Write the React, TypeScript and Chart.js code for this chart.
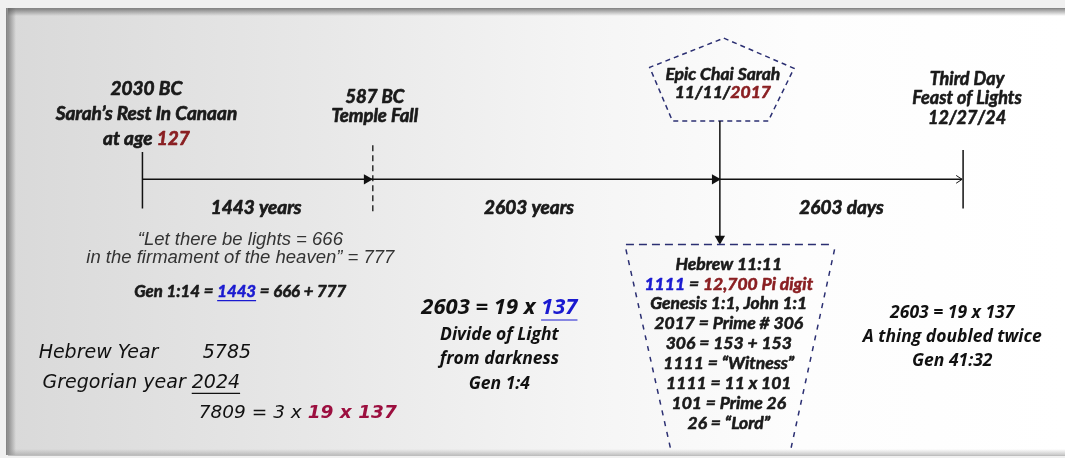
import React, { useEffect, useRef } from "react";
import { Chart, registerables } from "chart.js";

Chart.register(...registerables);

// ---- Timeline data (diagram units: x across, y down) ----
const eventLabels = ["2030 BC", "587 BC", "11/11/2017", "12/27/24"];
const eventX = [138, 370, 722, 968];
const axisY = 178;
const spanLabels = ["1443 years", "2603 years", "2603 days"];
const spanCenterX = [253, 529, 845];

// pentagon (Epic Chai Sarah) and trapezoid (Hebrew 11:11 box) outlines
const pentagonX = [726, 797, 771, 674, 651, 726];
const pentagonY = [33, 64, 118, 118, 63, 33];
const trapTopX = [627, 837];
const trapTopY = [245, 245];
const trapLeftX = [627, 672];
const trapLeftY = [250, 454];
const trapRightX = [838, 794];
const trapRightY = [250, 454];

// ---- Text content ----
const RED = "#8a1f22";
const CRIMSON = "#9c0f3f";
const BLUE = "#1a1ad0";
const INK = "#1a1a1a";

type Seg = { t: string; c?: string; u?: boolean; w?: string };
const L = (t: string, c?: string, u?: boolean, w?: string): Seg => ({ t, c, u, w });

const startEvent: Seg[][] = [[L(eventLabels[0])], [L("Sarah’s Rest In Canaan")], [L("at age "), L("127", RED)]];
const templeEvent: Seg[][] = [[L(eventLabels[1])], [L("Temple Fall")]];
const chaiEvent: Seg[][] = [[L("Epic Chai Sarah")], [L("11/11/"), L("2017", RED)]];
const thirdDayEvent: Seg[][] = [[L("Third Day")], [L("Feast of Lights")], [L(eventLabels[3])]];
const quoteLines: Seg[][] = [[L("“Let there be lights = 666")], [L("in the firmament of the heaven” = 777")]];
const genLine: Seg[][] = [[L("Gen 1:14 = "), L("1443", BLUE, true), L(" = 666 + 777")]];
const divideHead: Seg[][] = [[L("2603 = 19 x "), L("137", BLUE, true)]];
const divideLines: Seg[][] = [[L("Divide of Light")], [L("from darkness")], [L("Gen 1:4")]];
const hebrewLines: Seg[][] = [
  [L("Hebrew 11:11")],
  [L("1111", BLUE), L(" = "), L("12,700 Pi digit", RED)],
  [L("Genesis 1:1, John 1:1")],
  [L("2017 = Prime # 306")],
  [L("306 = 153 + 153")],
  [L("1111 = “Witness”")],
  [L("1111 = 11 x 101")],
  [L("101 = Prime 26")],
  [L("26 = “Lord”")],
];
const doubledLines: Seg[][] = [[L("2603 = 19 x 137")], [L("A thing doubled twice")], [L("Gen 41:32")]];
const yearLabels: Seg[][] = [[L("Hebrew Year")], [L("Gregorian year "), L("2024", undefined, true)]];
const yearValues = ["5785"];
const productLine: Seg[][] = [[L("7809 = 3 x "), L("19 x 137", CRIMSON, false, "bold")]];

// ---- Layout ----
const CAL = "italic bold SIZEpx Lato";
const ARI = "italic SIZEpx 'Liberation Sans'";
const OSB = "italic bold SIZEpx 'Open Sans'";
const DJV = "italic SIZEpx 'DejaVu Sans'";

type Block = { lines: Seg[][]; x: number; y: number; lh: number; font: string; size: number; align: "center" | "left"; color: string; heavy?: number };

const blocks: Block[] = [
  { lines: startEvent, x: eventX[0] + 4, y: 85, lh: 25.5, font: CAL, size: 19, align: "center", color: INK, heavy: 0.7 },
  { lines: templeEvent, x: eventX[1] + 3, y: 93, lh: 20, font: CAL, size: 18.5, align: "center", color: INK, heavy: 0.7 },
  { lines: chaiEvent, x: eventX[2] + 3, y: 70, lh: 19, font: CAL, size: 17.5, align: "center", color: INK, heavy: 0.6 },
  { lines: thirdDayEvent, x: eventX[3] + 4, y: 75, lh: 20, font: CAL, size: 18, align: "center", color: INK, heavy: 0.6 },
  { lines: quoteLines, x: 237, y: 240, lh: 19, font: ARI, size: 18.5, align: "center", color: "#333333" },
  { lines: genLine, x: 237, y: 293, lh: 18, font: CAL, size: 16.8, align: "center", color: INK, heavy: 0.6 },
  { lines: divideHead, x: 499, y: 310, lh: 20, font: OSB, size: 22, align: "center", color: "#111111" },
  { lines: divideLines, x: 499, y: 338, lh: 25, font: OSB, size: 17.5, align: "center", color: "#111111" },
  { lines: hebrewLines, x: 731, y: 265, lh: 20.4, font: CAL, size: 17.5, align: "center", color: INK, heavy: 0.6 },
  { lines: doubledLines, x: 957, y: 315, lh: 25, font: OSB, size: 17.5, align: "center", color: "#111111" },
  { lines: yearLabels.slice(0, 1), x: 33, y: 356, lh: 31, font: DJV, size: 19, align: "left", color: "#111111" },
  { lines: yearLabels.slice(1), x: 37, y: 387, lh: 31, font: DJV, size: 19, align: "left", color: "#111111" },
  { lines: [[L(yearValues[0])]], x: 199, y: 356, lh: 31, font: DJV, size: 19, align: "left", color: "#111111" },
  { lines: productLine, x: 195, y: 418, lh: 31, font: DJV, size: 18.5, align: "left", color: "#111111" },
];

const fontOf = (b: Block, s: Seg) => {
  let f = b.font.replace("SIZE", String(b.size));
  if (s.w === "bold" && !f.includes("bold")) f = f.replace("italic", "italic bold");
  return f;
};

const backgroundPlugin = {
  id: "panelBackground",
  beforeDraw(chart: any) {
    const { ctx, width, height } = chart;
    ctx.save();
    ctx.fillStyle = "#f0f0f0";
    ctx.fillRect(0, 0, width, height);
    const g = ctx.createLinearGradient(8, 0, width, 0);
    g.addColorStop(0, "#d9d9d9");
    g.addColorStop(0.3, "#e8e8e8");
    g.addColorStop(0.55, "#f5f5f5");
    g.addColorStop(0.75, "#fdfdfd");
    g.addColorStop(1, "#ffffff");
    ctx.fillStyle = g;
    ctx.fillRect(8, 9, width - 8, 446);
    const gt = ctx.createLinearGradient(0, 8, 0, 16);
    gt.addColorStop(0, "rgba(90,90,90,0.75)");
    gt.addColorStop(1, "rgba(90,90,90,0)");
    ctx.fillStyle = gt;
    ctx.fillRect(8, 8, width - 8, 8);
    const gl = ctx.createLinearGradient(6, 0, 16, 0);
    gl.addColorStop(0, "rgba(90,90,90,0.75)");
    gl.addColorStop(1, "rgba(90,90,90,0)");
    ctx.fillStyle = gl;
    ctx.fillRect(6, 8, 10, 447);
    const gb = ctx.createLinearGradient(0, 449, 0, 456);
    gb.addColorStop(0, "rgba(150,150,150,0)");
    gb.addColorStop(1, "rgba(150,150,150,0.6)");
    ctx.fillStyle = gb;
    ctx.fillRect(8, 449, width - 8, 7);
    ctx.restore();
  },
};

const textPlugin = {
  id: "diagramText",
  afterDatasetsDraw(chart: any) {
    const { ctx } = chart;
    const xs = chart.scales.x;
    const ys = chart.scales.y;
    ctx.save();
    ctx.textBaseline = "middle";
    ctx.textAlign = "left";
    ctx.lineJoin = "round";
    const drawBlock = (b: Block) => {
      b.lines.forEach((line, i) => {
        const cy = ys.getPixelForValue(b.y + i * b.lh);
        let total = 0;
        line.forEach((s) => {
          ctx.font = fontOf(b, s);
          total += ctx.measureText(s.t).width;
        });
        const px = xs.getPixelForValue(b.x);
        let cx = b.align === "center" ? px - total / 2 : px;
        line.forEach((s) => {
          ctx.font = fontOf(b, s);
          const w = ctx.measureText(s.t).width;
          const col = s.c || b.color;
          ctx.fillStyle = col;
          ctx.fillText(s.t, cx, cy);
          if (b.heavy) {
            ctx.strokeStyle = col;
            ctx.lineWidth = b.heavy;
            ctx.strokeText(s.t, cx, cy);
          }
          if (s.u) {
            ctx.strokeStyle = col;
            ctx.lineWidth = 1.2;
            ctx.beginPath();
            ctx.moveTo(cx, cy + b.size * 0.55);
            ctx.lineTo(cx + w, cy + b.size * 0.55);
            ctx.stroke();
          }
          cx += w;
        });
      });
    };
    blocks.forEach(drawBlock);
    spanLabels.forEach((t, i) =>
      drawBlock({ lines: [[L(t)]], x: spanCenterX[i], y: 207, lh: 20, font: CAL, size: 19, align: "center", color: INK, heavy: 0.7 })
    );
    ctx.restore();
  },
};

const pts = (xa: number[], ya: number[]) => xa.map((x, i) => ({ x, y: ya[i] }));

const lineDs = (data: { x: number; y: number }[], color = "#111111", width = 1.5, dash: number[] = []) => ({
  type: "line" as const,
  data,
  borderColor: color,
  borderWidth: width,
  borderDash: dash,
  pointRadius: 0,
  fill: false,
  tension: 0,
  showLine: true,
});

export default function App() {
  const ref = useRef<HTMLCanvasElement | null>(null);
  useEffect(() => {
    if (!ref.current) return;
    const NAVY = "#2b2f72";
    const datasets: any[] = [
      lineDs([{ x: eventX[0], y: axisY }, { x: eventX[3] - 1, y: axisY }]),
      lineDs([{ x: eventX[0], y: 150 }, { x: eventX[0], y: 208 }]),
      lineDs([{ x: eventX[3], y: 148 }, { x: eventX[3], y: 208 }]),
      lineDs([{ x: eventX[1] + 1, y: 143 }, { x: eventX[1] + 1, y: 212 }], "#111111", 1.3, [6, 4]),
      lineDs([{ x: eventX[2], y: 118 }, { x: eventX[2], y: 240 }]),
      lineDs([{ x: eventX[3] - 7, y: axisY - 4 }, { x: eventX[3] - 1, y: axisY }, { x: eventX[3] - 7, y: axisY + 4 }], "#111111", 1),
      lineDs(pts(pentagonX, pentagonY), NAVY, 1.5, [5, 4]),
      lineDs(pts(trapTopX, trapTopY), NAVY, 1.5, [8, 5]),
      lineDs(pts(trapLeftX, trapLeftY), NAVY, 1.5, [5, 6]),
      lineDs(pts(trapRightX, trapRightY), NAVY, 1.5, [5, 6]),
      {
        type: "scatter" as const,
        data: [
          { x: eventX[1] - 5, y: axisY },
          { x: eventX[2] - 5, y: axisY },
        ],
        pointStyle: "triangle",
        pointRotation: 90,
        pointRadius: 6,
        backgroundColor: "#111111",
        borderColor: "#111111",
        borderWidth: 0,
      },
      {
        type: "scatter" as const,
        data: [{ x: eventX[2], y: 239 }],
        pointStyle: "triangle",
        pointRotation: 180,
        pointRadius: 6,
        backgroundColor: "#111111",
        borderColor: "#111111",
        borderWidth: 0,
      },
    ];
    const chart = new Chart(ref.current, {
      type: "scatter",
      data: { datasets },
      options: {
        animation: false,
        responsive: true,
        maintainAspectRatio: false,
        layout: { padding: 0 },
        plugins: { legend: { display: false }, tooltip: { enabled: false }, title: { display: false } },
        scales: {
          x: { type: "linear", min: 0, max: 1065, display: false },
          y: { type: "linear", min: 0, max: 458, reverse: true, display: false },
        },
        elements: { point: { hitRadius: 0 } },
      },
      plugins: [backgroundPlugin, textPlugin],
    } as any);
    return () => chart.destroy();
  }, []);
  return (
    <div style={{ position: "fixed", left: 0, top: 0, width: 1065, height: 458 }}>
      <canvas ref={ref} />
    </div>
  );
}
